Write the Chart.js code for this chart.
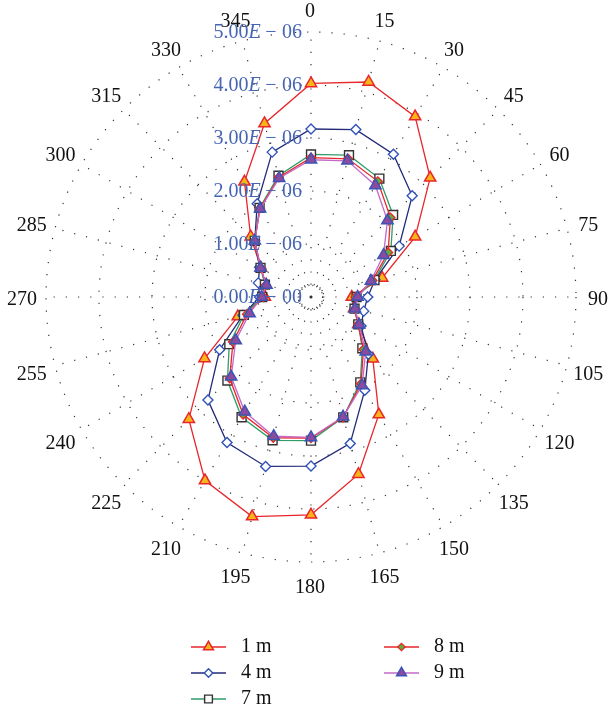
<!DOCTYPE html>
<html>
<head>
<meta charset="utf-8">
<script src="https://cdn.jsdelivr.net/npm/chart.js@4.4.1/dist/chart.umd.min.js"></script>
<style>
  html, body { margin: 0; padding: 0; background: #fff; }
  #wrap { width: 609px; height: 715px; }
</style>
</head>
<body>
<div id="wrap"><canvas id="polar" width="609" height="715"></canvas></div>
<script>
// direction in degrees, clockwise from north
const angles = ['0', '15', '30', '45', '60', '75', '90', '105', '120', '135', '150', '165',
  '180', '195', '210', '225', '240', '255', '270', '285', '300', '315', '330', '345']

const seriesNames = ['1 m', '4 m', '7 m', '8 m', '9 m']

const values1m = [4.03e-6, 4.20e-6, 3.93e-6, 3.18e-6, 2.27e-6, 1.39e-6, 0.77e-6, 0.84e-6,
  1.03e-6, 1.65e-6, 2.56e-6, 3.46e-6, 4.11e-6, 4.29e-6, 4.00e-6, 3.26e-6,
  2.32e-6, 1.43e-6, 0.87e-6, 0.88e-6, 1.09e-6, 1.61e-6, 2.51e-6, 3.39e-6]
const values4m = [3.17e-6, 3.27e-6, 3.11e-6, 2.70e-6, 1.92e-6, 1.25e-6, 1.07e-6, 1.03e-6,
  1.09e-6, 1.53e-6, 2.03e-6, 2.86e-6, 3.19e-6, 3.31e-6, 3.17e-6, 2.75e-6,
  1.99e-6, 1.33e-6, 0.97e-6, 1.03e-6, 1.12e-6, 1.50e-6, 2.03e-6, 2.83e-6]
const values7m = [2.69e-6, 2.77e-6, 2.58e-6, 2.19e-6, 1.74e-6, 1.24e-6, 0.86e-6, 0.85e-6,
  1.03e-6, 1.37e-6, 1.86e-6, 2.35e-6, 2.71e-6, 2.80e-6, 2.62e-6, 2.23e-6,
  1.78e-6, 1.31e-6, 0.92e-6, 0.90e-6, 1.10e-6, 1.50e-6, 1.94e-6, 2.37e-6]
const values8m = [2.63e-6, 2.70e-6, 2.52e-6, 2.12e-6, 1.68e-6, 1.20e-6, 0.84e-6, 0.86e-6,
  1.03e-6, 1.40e-6, 1.89e-6, 2.35e-6, 2.66e-6, 2.75e-6, 2.56e-6, 2.17e-6,
  1.70e-6, 1.25e-6, 0.90e-6, 0.88e-6, 1.09e-6, 1.50e-6, 1.93e-6, 2.34e-6]
const values9m = [2.59e-6, 2.66e-6, 2.43e-6, 2.04e-6, 1.58e-6, 1.17e-6, 0.88e-6, 0.86e-6,
  1.05e-6, 1.46e-6, 1.93e-6, 2.34e-6, 2.65e-6, 2.72e-6, 2.50e-6, 2.13e-6,
  1.64e-6, 1.20e-6, 0.93e-6, 0.87e-6, 1.10e-6, 1.50e-6, 1.92e-6, 2.32e-6]

// radial rings, the small one near the middle has no label
const gridValues = [0, 0.22e-6, 1e-6, 2e-6, 3e-6, 4e-6, 5e-6]
const tickValues = [0, 1e-6, 2e-6, 3e-6, 4e-6, 5e-6]
const tickLabels = ['0.00E-00', '1.00E-06', '2.00E-06', '3.00E-06', '4.00E-06', '5.00E-06']

const SERIF = '"Liberation Serif", "DejaVu Serif", serif'
const TICK_BLUE = '#4565b4'

// angle labels around the outer ring
const angleLabelPlugin = {
  id: 'angleLabels',
  afterDraw(chart) {
    const scale = chart.scales.r
    const ctx = chart.ctx
    ctx.save()
    ctx.font = '20px ' + SERIF
    ctx.fillStyle = '#111'
    ctx.textAlign = 'center'
    ctx.textBaseline = 'middle'
    angles.forEach((label, i) => {
      const p = scale.getPointPosition(i, scale.drawingArea + 23)
      ctx.fillText(label, p.x - 1, p.y + 3)
    })
    ctx.restore()
  },
}

// radial tick labels, written as 4.00E − 06 with an italic E
const tickLabelPlugin = {
  id: 'tickLabels',
  afterDraw(chart) {
    const scale = chart.scales.r
    const ctx = chart.ctx
    const upright = '20px ' + SERIF
    const italic = 'italic 20px ' + SERIF
    ctx.save()
    ctx.fillStyle = TICK_BLUE
    ctx.textBaseline = 'middle'
    ctx.textAlign = 'left'
    tickValues.forEach((v, i) => {
      const parts = tickLabels[i].split('E')
      const mant = parts[0]
      const expDigits = parts[1].replace('-', '')
      ctx.font = upright
      const wM = ctx.measureText(mant).width
      const wMinus = ctx.measureText('\u2212').width
      const wExp = ctx.measureText(expDigits).width
      ctx.font = italic
      const wE = ctx.measureText('E').width
      const gap1 = 4.5
      const gap2 = 5.5
      const total = wM + wE + gap1 + wMinus + gap2 + wExp
      let x = scale.xCenter - 9 - total
      const y = scale.yCenter - scale.getDistanceFromCenterForValue(v) + 1
      ctx.font = upright
      ctx.fillText(mant, x, y)
      x += wM
      ctx.font = italic
      ctx.fillText('E', x, y)
      x += wE + gap1
      ctx.font = upright
      ctx.fillText('\u2212', x, y)
      x += wMinus + gap2
      ctx.fillText(expDigits, x, y)
    })
    ctx.restore()
  },
}

// legend in two columns under the plot
const legendSlots = [[191, 647], [191, 673], [191, 699], [384, 647], [384, 673]]
const legendPlugin = {
  id: 'twoColLegend',
  afterDraw(chart) {
    const ctx = chart.ctx
    ctx.save()
    chart.data.datasets.forEach((ds, i) => {
      const [x, y] = legendSlots[i]
      ctx.strokeStyle = ds.borderColor
      ctx.lineWidth = 1.4
      ctx.setLineDash([])
      ctx.beginPath()
      ctx.moveTo(x, y)
      ctx.lineTo(x + 35, y)
      ctx.stroke()
      ctx.fillStyle = ds.pointBackgroundColor
      ctx.strokeStyle = ds.pointBorderColor
      ctx.lineWidth = ds.pointBorderWidth
      Chart.helpers.drawPoint(ctx, {
        pointStyle: ds.pointStyle,
        radius: ds.pointRadius - 0.8,
        rotation: 0,
        borderWidth: ds.pointBorderWidth,
      }, x + 17.5, y)
      ctx.fillStyle = '#111'
      ctx.font = '20px ' + SERIF
      ctx.textAlign = 'left'
      ctx.textBaseline = 'middle'
      ctx.fillText(ds.label, x + 50, y)
    })
    ctx.restore()
  },
}

const datasets = [
  {
    label: seriesNames[0], data: values1m, order: 5,
    borderColor: '#e8262b', pointStyle: 'triangle', pointRadius: 6.5,
    pointBackgroundColor: '#f8b51a', pointBorderColor: '#e8262b', pointBorderWidth: 1.5,
  },
  {
    label: seriesNames[1], data: values4m, order: 4,
    borderColor: '#222a78', pointStyle: 'rectRot', pointRadius: 5,
    pointBackgroundColor: '#ffffff', pointBorderColor: '#3152b8', pointBorderWidth: 1.4,
  },
  {
    label: seriesNames[2], data: values7m, order: 3,
    borderColor: '#2f9d6a', pointStyle: 'rect', pointRadius: 6.3,
    pointBackgroundColor: '#ffffff', pointBorderColor: '#333333', pointBorderWidth: 1.4,
  },
  {
    label: seriesNames[3], data: values8m, order: 2,
    borderColor: '#e8262b', pointStyle: 'rectRot', pointRadius: 4.5,
    pointBackgroundColor: '#5fae35', pointBorderColor: '#e8262b', pointBorderWidth: 1.3,
  },
  {
    label: seriesNames[4], data: values9m, order: 1,
    borderColor: '#c469c8', pointStyle: 'triangle', pointRadius: 6.5,
    pointBackgroundColor: '#8d4b9f', pointBorderColor: '#3a55b5', pointBorderWidth: 1.5,
  },
]

datasets.forEach((ds) => {
  ds.borderWidth = 1.3
  ds.fill = false
  ds.backgroundColor = 'transparent'
})

new Chart(document.getElementById('polar'), {
  type: 'radar',
  data: { labels: angles, datasets },
  options: {
    responsive: false,
    animation: false,
    devicePixelRatio: 1,
    layout: { padding: { left: 46, right: 33, top: 32, bottom: 153 } },
    elements: { line: { tension: 0 } },
    plugins: {
      legend: { display: false },
      tooltip: { enabled: false },
    },
    scales: {
      r: {
        min: 0,
        max: 5e-6,
        afterBuildTicks: (scale) => {
          scale.ticks = gridValues.map((v) => ({ value: v }))
        },
        ticks: { display: false },
        pointLabels: { display: false },
        grid: { circular: true, color: '#333', lineWidth: 1.2 },
        border: {
          dash: (ctx) => (ctx.tick && ctx.tick.value < 1e-6 ? [1, 3] : [1.2, 11]),
        },
        angleLines: { color: '#333', lineWidth: 1.2, borderDash: [1.2, 11] },
      },
    },
  },
  plugins: [angleLabelPlugin, tickLabelPlugin, legendPlugin],
})
</script>
</body>
</html>
